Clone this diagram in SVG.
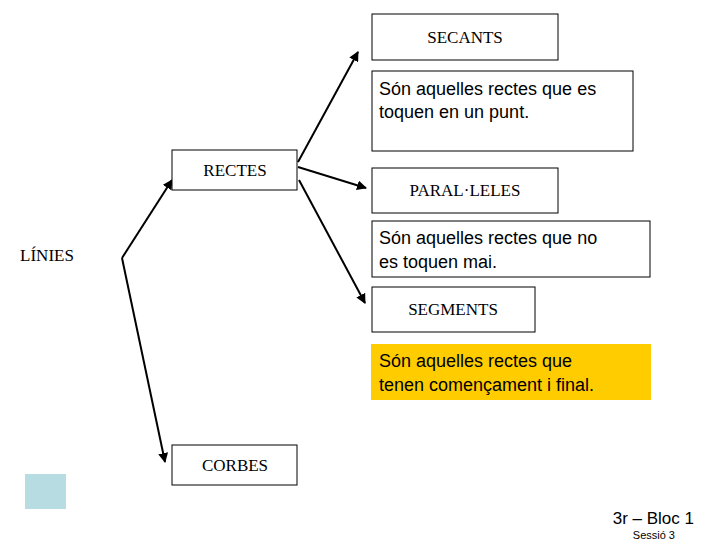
<svg xmlns="http://www.w3.org/2000/svg" width="720" height="540" viewBox="0 0 720 540">
<defs>
<style>
.b{fill:#fff;stroke:#000;stroke-width:1}
.t{font-family:"Liberation Serif",serif;font-size:17px;fill:#000;text-anchor:middle}
.d{font-family:"Liberation Sans",Arial,sans-serif;font-size:18px;fill:#000}
.c{stroke:#000;stroke-width:2;fill:none;marker-end:url(#a)}
</style>
<marker id="a" viewBox="0 0 10 10" refX="9" refY="5" markerWidth="5" markerHeight="5" orient="auto"><path d="M0,0L10,5L0,10z" fill="#000"/></marker>
</defs>
<rect width="720" height="540" fill="#fff"/>
<g id="connectors">
<path class="c" d="M122,258L172,180"/>
<path class="c" d="M122,258L165,462"/>
<path class="c" d="M298,162L358,52"/>
<path class="c" d="M298,167L366,188"/>
<path class="c" d="M299,180L365,303"/>
</g>
<g id="linies"><text class="t" x="47" y="261" font-size="18">LÍNIES</text></g>
<g id="rectes"><rect class="b" x="172" y="150" width="125" height="40"/><text class="t" x="235" y="176">RECTES</text></g>
<g id="secants"><rect class="b" x="372" y="14" width="186" height="46"/><text class="t" x="465" y="43">SECANTS</text></g>
<g id="secants-desc"><rect class="b" x="372" y="71" width="261" height="80"/><text class="d" x="379" y="95">Són aquelles rectes que es</text><text class="d" x="379" y="118">toquen en un punt.</text></g>
<g id="paraleles"><rect class="b" x="372" y="168" width="186" height="45"/><text class="t" x="465" y="196">PARAL·LELES</text></g>
<g id="paraleles-desc"><rect class="b" x="372" y="221" width="278" height="56"/><text class="d" x="379" y="244">Són aquelles rectes que no</text><text class="d" x="379" y="268">es toquen mai.</text></g>
<g id="segments"><rect class="b" x="372" y="287" width="163" height="45"/><text class="t" x="453" y="315">SEGMENTS</text></g>
<g id="segments-desc"><rect x="371" y="344" width="280" height="56" fill="#ffcc00"/><text class="d" x="379" y="367">Són aquelles rectes que</text><text class="d" x="379" y="391">tenen començament i final.</text></g>
<g id="corbes"><rect class="b" x="172" y="445" width="125" height="40"/><text class="t" x="235" y="471">CORBES</text></g>
<rect x="25" y="474" width="41" height="35" fill="#b7dde2"/>
<text x="694" y="524" font-family="Liberation Sans,Arial,sans-serif" font-size="17" text-anchor="end">3r – Bloc 1</text>
<text x="675" y="539" font-family="Liberation Sans,Arial,sans-serif" font-size="11" text-anchor="end">Sessió 3</text>
</svg>
